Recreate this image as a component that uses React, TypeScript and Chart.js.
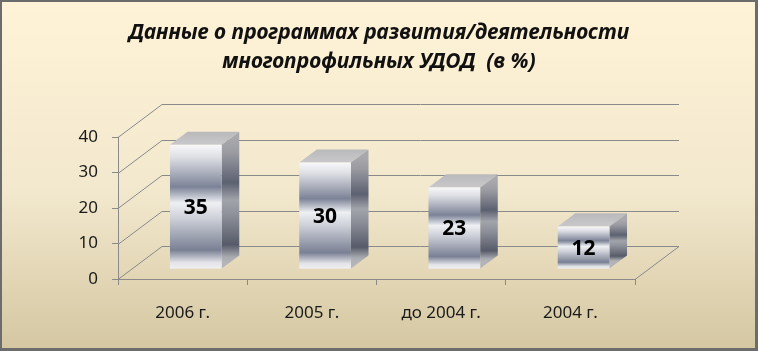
import React, { useEffect, useRef } from 'react';
import { Chart, registerables } from 'chart.js';

Chart.register(...registerables);

// ---- data ----
const categories = ['2006 г.', '2005 г.', 'до 2004 г.', '2004 г.'];
const values = [35, 30, 23, 12];
const yTicks = [0, 10, 20, 30, 40];
const titleLines = ['Данные о программах развития/деятельности', 'многопрофильных УДОД  (в %)'];

// ---- style ----
const FONT = '"Noto Sans", "DejaVu Sans", sans-serif';
const DEPTH_X = 44;
const DEPTH_Y = -33;
const BAR_FRONT = 0.3;
const BAR_BACK = 0.7;
const LINE = '#8a8a8a';

const frontStops: [number, string][] = [
  [0, '#f8f8fa'], [0.1, '#dedfe4'], [0.34, '#7c8397'], [0.47, '#eef0f3'],
  [0.6, '#cbced6'], [0.85, '#7a8094'], [0.95, '#e2e3e8'], [1, '#f0f0f3'],
];
const sideStops: [number, string][] = [
  [0, '#a9a9ad'], [0.12, '#9a9ba1'], [0.36, '#5c6171'], [0.5, '#a2a4ab'],
  [0.62, '#8d9099'], [0.86, '#575b69'], [0.96, '#a9abb1'], [1, '#b4b4b8'],
];

const bgPlugin = {
  id: 'bg3d',
  beforeDraw(chart: any) {
    const { ctx, width, height } = chart;
    ctx.save();
    ctx.fillStyle = '#6c6c6c';
    ctx.fillRect(0, 0, width, height);
    const g = ctx.createLinearGradient(0, 2, 0, height - 3);
    g.addColorStop(0, '#fff3d7');
    g.addColorStop(0.55, '#f2e8cd');
    g.addColorStop(1, '#d5c7a2');
    ctx.fillStyle = g;
    ctx.fillRect(2, 2, width - 5, height - 5);
    ctx.restore();
  },
};

const wallPlugin = {
  id: 'wall3d',
  beforeDatasetsDraw(chart: any) {
    const { ctx, chartArea } = chart;
    const ys = chart.scales.y;
    const { left, right, bottom } = chartArea;
    ctx.save();
    ctx.strokeStyle = LINE;
    ctx.lineWidth = 1;
    ctx.beginPath();
    for (const v of yTicks) {
      const py = Math.round(ys.getPixelForValue(v)) + 0.5;
      ctx.moveTo(left, py);
      ctx.lineTo(left + DEPTH_X, py + DEPTH_Y);
      ctx.lineTo(right + DEPTH_X, py + DEPTH_Y);
    }
    const pb = Math.round(bottom) + 0.5;
    ctx.moveTo(right, pb);
    ctx.lineTo(right + DEPTH_X, pb + DEPTH_Y);
    ctx.stroke();
    ctx.restore();
  },
};

const barPlugin = {
  id: 'bar3d',
  afterDatasetsDraw(chart: any) {
    const { ctx } = chart;
    const meta = chart.getDatasetMeta(0);
    const fx = BAR_FRONT * DEPTH_X;
    const fy = BAR_FRONT * DEPTH_Y;
    const bx = (BAR_BACK - BAR_FRONT) * DEPTH_X;
    const by = (BAR_BACK - BAR_FRONT) * DEPTH_Y;
    ctx.save();
    meta.data.forEach((bar: any, i: number) => {
      const p = bar.getProps(['x', 'y', 'base', 'width'], true);
      const x0 = p.x - p.width / 2 + fx;
      const x1 = p.x + p.width / 2 + fx;
      const yt = p.y + fy;
      const yb = p.base + fy;
      // top face
      const tg = ctx.createLinearGradient(0, yt, 0, yt + by);
      tg.addColorStop(0, '#c9c9cb');
      tg.addColorStop(1, '#b9b9bc');
      ctx.fillStyle = tg;
      ctx.beginPath();
      ctx.moveTo(x0, yt);
      ctx.lineTo(x0 + bx, yt + by);
      ctx.lineTo(x1 + bx, yt + by);
      ctx.lineTo(x1, yt);
      ctx.closePath();
      ctx.fill();
      // side face
      const sg = ctx.createLinearGradient(0, yt + by / 2, 0, yb + by / 2);
      sideStops.forEach(([o, c]) => sg.addColorStop(o, c));
      ctx.fillStyle = sg;
      ctx.beginPath();
      ctx.moveTo(x1, yt);
      ctx.lineTo(x1 + bx, yt + by);
      ctx.lineTo(x1 + bx, yb + by);
      ctx.lineTo(x1, yb);
      ctx.closePath();
      ctx.fill();
      // front face
      const fg = ctx.createLinearGradient(0, yt, 0, yb);
      frontStops.forEach(([o, c]) => fg.addColorStop(o, c));
      ctx.fillStyle = fg;
      ctx.fillRect(x0, yt, x1 - x0, yb - yt);
      // label
      ctx.fillStyle = '#000';
      ctx.font = `bold 21px ${FONT}`;
      ctx.textAlign = 'center';
      ctx.textBaseline = 'middle';
      ctx.fillText(String(values[i]), (x0 + x1) / 2, (yt + yb) / 2 + 1);
    });
    ctx.restore();
  },
};

export default function App() {
  const ref = useRef<HTMLCanvasElement | null>(null);
  useEffect(() => {
    document.body.style.margin = '0';
    if (!ref.current) return;
    const chart = new Chart(ref.current, {
      type: 'bar',
      data: {
        labels: categories,
        datasets: [{
          data: values,
          backgroundColor: 'rgba(0,0,0,0)',
          borderWidth: 0,
          barPercentage: 0.4,
          categoryPercentage: 1,
        }],
      },
      options: {
        responsive: false,
        animation: false,
        devicePixelRatio: 1,
        layout: { padding: 0 },
        plugins: {
          legend: { display: false },
          tooltip: { enabled: false },
          title: {
            display: true,
            text: titleLines,
            color: '#111',
            font: { family: FONT, size: 21, style: 'italic', weight: 'bold', lineHeight: 29 / 21 },
            padding: { top: 18.5, bottom: 60.5 },
          },
        },
        scales: {
          x: {
            grid: { display: true, drawOnChartArea: false, drawTicks: true, tickLength: 6, color: LINE, offset: true },
            border: { display: true, color: LINE, width: 1 },
            ticks: { color: '#1a1a1a', font: { family: FONT, size: 17 }, padding: 18, maxRotation: 0 },
            afterFit: (s: any) => { s.height = 72; },
          },
          y: {
            min: 0,
            max: 40,
            grid: { display: true, drawOnChartArea: false, drawTicks: true, tickLength: 6, color: LINE },
            border: { display: true, color: LINE, width: 1 },
            ticks: { color: '#1a1a1a', font: { family: FONT, size: 17 }, padding: 14, stepSize: 10 },
            afterFit: (s: any) => { s.width = 118; },
          },
          yRight: {
            position: 'right',
            display: true,
            min: 0,
            max: 40,
            grid: { display: false, drawTicks: false },
            border: { display: false },
            ticks: { display: false },
            afterFit: (s: any) => { s.width = 123; },
          },
        },
      },
      plugins: [bgPlugin, wallPlugin, barPlugin],
    });
    return () => chart.destroy();
  }, []);
  return (
    <div style={{ width: 758, height: 351 }}>
      <canvas ref={ref} width={758} height={351} style={{ display: 'block' }} />
    </div>
  );
}
